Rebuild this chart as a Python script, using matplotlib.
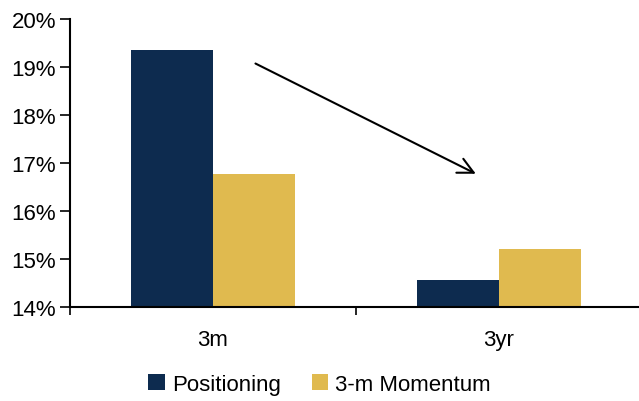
import matplotlib.pyplot as plt
import numpy as np
from matplotlib.ticker import FuncFormatter, FixedLocator

plt.rcParams['font.family'] = ['Liberation Sans Narrow', 'Liberation Sans', 'DejaVu Sans']

categories = ["3m", "3yr"]
positioning = [19.35, 14.56]
momentum = [16.77, 15.21]

navy = "#0d2b4f"
gold = "#e0ba4f"

fig = plt.figure(figsize=(6.39, 4.02), dpi=100)
ax = fig.add_axes([0.1095, 0.234, 0.895, 0.716])

x = np.arange(len(categories))
w = 0.287
ax.bar(x - w / 2, np.array(positioning) - 14, w, bottom=14, color=navy, label="Positioning")
ax.bar(x + w / 2, np.array(momentum) - 14, w, bottom=14, color=gold, label="3-m Momentum")

ax.set_xlim(-0.5, 1.5)
ax.set_ylim(14, 20)
ax.set_yticks(np.arange(14, 21, 1))
ax.yaxis.set_major_formatter(FuncFormatter(lambda v, p: f"{v:.0f}%"))

# category labels centred, tick marks on the category boundaries
ax.set_xticks(x)
ax.set_xticklabels(categories)
ax.tick_params(axis="x", which="major", length=0, pad=16, labelsize=16)
ax.xaxis.set_minor_locator(FixedLocator([-0.5, 0.5, 1.5]))
ax.tick_params(axis="x", which="minor", length=6, width=1.2, direction="out")
ax.tick_params(axis="y", length=7, width=1.2, direction="out", labelsize=16, pad=3)

for side in ("top", "right"):
    ax.spines[side].set_visible(False)
for side in ("left", "bottom"):
    ax.spines[side].set_linewidth(1.5)

# trend arrow from the short to the long horizon
ax.annotate("", xy=(0.928, 16.75), xytext=(0.14, 19.10),
            arrowprops=dict(arrowstyle="->", color="black", lw=1.5, mutation_scale=28))

fig.legend(loc="lower center", bbox_to_anchor=(0.5, -0.035), ncol=2, frameon=False,
           fontsize=16, handlelength=0.75, handleheight=0.75, handletextpad=0.3,
           columnspacing=1.4)

fig.savefig("out.png", dpi=100)
